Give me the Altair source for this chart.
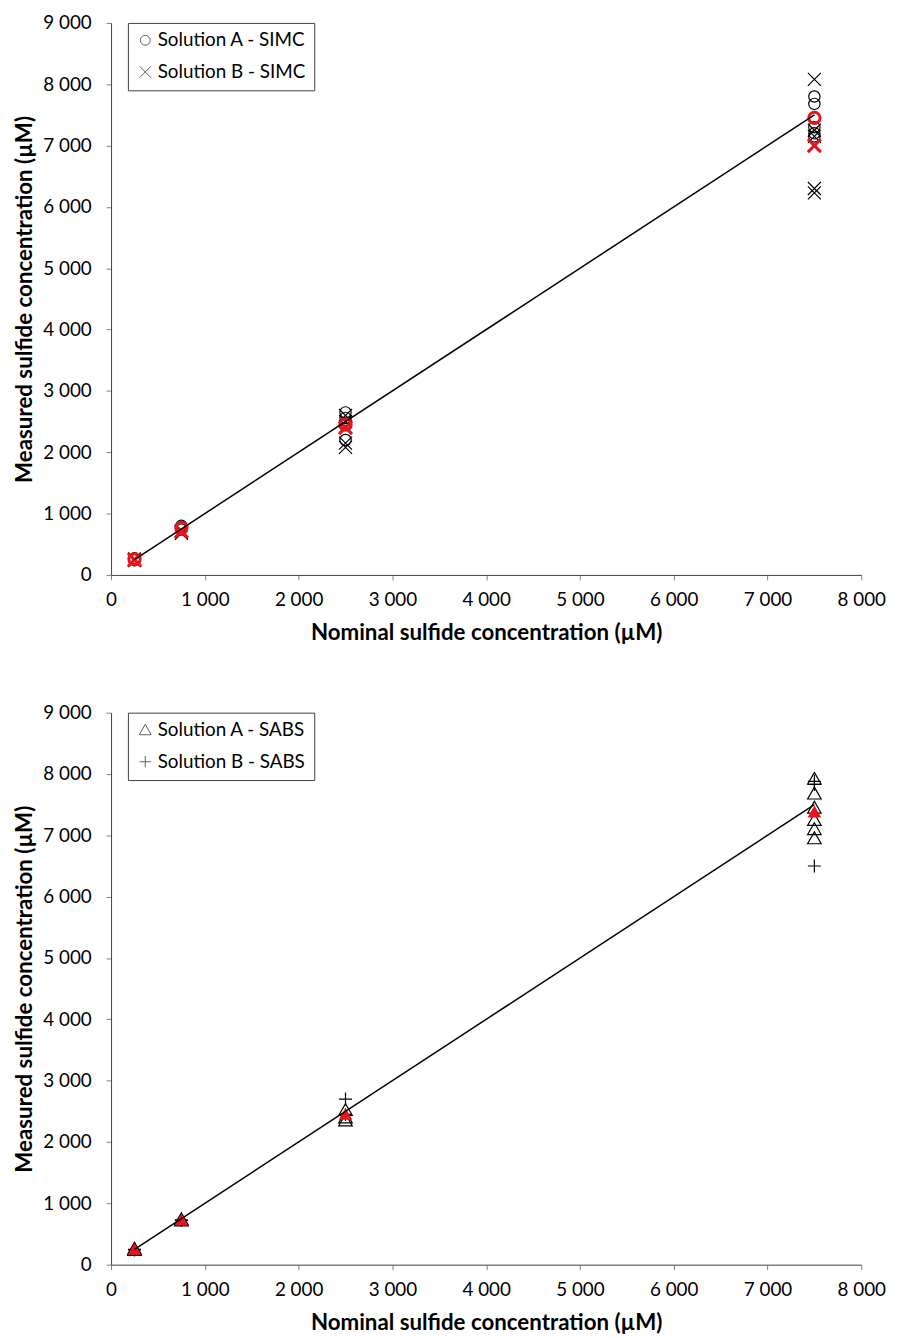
import altair as alt
import pandas as pd

# ---------------- data ----------------
# Top panel: SIMC
simc_a_nominal = [250, 250, 250, 750, 750, 750, 2500, 2500, 2500, 2500, 7500, 7500, 7500, 7500, 7500]
simc_a_measured = [270, 250, 240, 800, 780, 740, 2650, 2560, 2470, 2200, 7800, 7680, 7300, 7200, 7150]
simc_b_nominal = [250, 250, 250, 750, 750, 750, 2500, 2500, 2500, 2500, 2500, 7500, 7500, 7500, 7500, 7500]
simc_b_measured = [260, 245, 235, 720, 700, 680, 2600, 2500, 2420, 2150, 2080, 8080, 7250, 7150, 6300, 6230]
simc_mean_nominal = [250, 750, 2500, 7500]
simc_a_mean = [255, 765, 2450, 7450]
simc_b_mean = [245, 710, 2400, 7000]

# Bottom panel: SABS
sabs_a_nominal = [250, 250, 750, 750, 2500, 2500, 2500, 7500, 7500, 7500, 7500, 7500, 7500]
sabs_a_measured = [260, 240, 740, 720, 2520, 2400, 2350, 7920, 7680, 7450, 7250, 7100, 6950]
sabs_b_nominal = [250, 250, 750, 750, 2500, 2500, 7500, 7500, 7500]
sabs_b_measured = [250, 240, 730, 720, 2700, 2450, 7880, 7830, 6500]
sabs_mean_nominal = [250, 750, 2500, 7500]
sabs_a_mean = [250, 730, 2450, 7380]

line_x = [250, 7500]
line_y = [250, 7500]

x_ticks = [0, 1000, 2000, 3000, 4000, 5000, 6000, 7000, 8000]
y_ticks = [0, 1000, 2000, 3000, 4000, 5000, 6000, 7000, 8000, 9000]

X_PATH = "M-1.15,-1.15L1.15,1.15M-1.15,1.15L1.15,-1.15"
PLUS_PATH = "M-1.15,0L1.15,0M0,-1.15L0,1.15"
TRI_PATH = "M0,-1.15L1.2,0.95L-1.2,0.95Z"

FONT = "Lato"
W, H = 757, 557
RED = "#e8141c"
SIZE = 130

label_expr = "replace(format(datum.value, ','), ',', ' ')"


def xaxis():
    return alt.Axis(values=x_ticks, labelExpr=label_expr, grid=False, labelFlush=False,
                    title="Nominal sulfide concentration (µM)",
                    titleFontWeight="bold", titleFontSize=22.5, titleFont=FONT,
                    labelFont=FONT, labelFontSize=19, labelColor="black", titleColor="black",
                    domainColor="#404040", tickColor="#808080", tickSize=5,
                    labelPadding=11, titlePadding=12)


def yaxis():
    return alt.Axis(values=y_ticks, labelExpr=label_expr, grid=False, labelFlush=False,
                    title="Measured sulfide concentration (µM)",
                    titleFontWeight="bold", titleFontSize=22.5, titleFont=FONT,
                    labelFont=FONT, labelFontSize=19, labelColor="black", titleColor="black",
                    domainColor="#404040", tickColor="#808080", tickSize=5,
                    labelPadding=15, titlePadding=6)


def panel(a_nom, a_meas, b_nom, b_meas, mean_nom, a_mean, b_mean,
          label_a, label_b, shape_a, shape_b, red_filled_a):
    xs = alt.Scale(domain=[0, 8000], nice=False)
    ys = alt.Scale(domain=[0, 9000], nice=False)

    pts = pd.concat([
        pd.DataFrame({"nominal": a_nom, "measured": a_meas, "series": label_a}),
        pd.DataFrame({"nominal": b_nom, "measured": b_meas, "series": label_b}),
    ])
    line_df = pd.DataFrame({"nominal": line_x, "measured": line_y})

    line = alt.Chart(line_df).mark_line(color="black", strokeWidth=1.5).encode(
        x=alt.X("nominal:Q", scale=xs, axis=xaxis()),
        y=alt.Y("measured:Q", scale=ys, axis=yaxis()),
    )

    shape_scale = alt.Scale(domain=[label_a, label_b], range=[shape_a, shape_b])

    points = alt.Chart(pts).mark_point(filled=False, color="black", strokeWidth=1.2,
                                       opacity=1, size=SIZE).encode(
        x=alt.X("nominal:Q", scale=xs),
        y=alt.Y("measured:Q", scale=ys),
        shape=alt.Shape("series:N", scale=shape_scale,
                        legend=alt.Legend(title=None, orient="none", legendX=17, legendY=0,
                                          strokeColor="#404040", padding=8,
                                          labelFont=FONT, labelFontSize=19, labelColor="black",
                                          symbolStrokeColor="#606060", symbolStrokeWidth=1,
                                          symbolSize=100, symbolFillColor="transparent",
                                          rowPadding=12, labelOffset=3, fillColor="white")),
    )

    layers = [points]
    if b_mean is not None:
        b_red = pd.DataFrame({"nominal": mean_nom, "measured": b_mean})
        layers.append(alt.Chart(b_red).mark_point(shape=shape_b, size=SIZE, color=RED,
                                                  filled=False, strokeWidth=3, opacity=1).encode(
            x=alt.X("nominal:Q", scale=xs), y=alt.Y("measured:Q", scale=ys)))
    a_red = pd.DataFrame({"nominal": mean_nom, "measured": a_mean})
    layers.append(alt.Chart(a_red).mark_point(shape=shape_a, size=SIZE, color=RED,
                                              filled=red_filled_a, strokeWidth=3, opacity=1).encode(
        x=alt.X("nominal:Q", scale=xs), y=alt.Y("measured:Q", scale=ys)))
    layers.append(line)

    return alt.layer(*layers).properties(
        width=W, height=H, view=alt.ViewConfig(stroke="transparent", strokeWidth=0, strokeOpacity=0))


top = panel(simc_a_nominal, simc_a_measured, simc_b_nominal, simc_b_measured,
            simc_mean_nominal, simc_a_mean, simc_b_mean,
            "Solution A - SIMC", "Solution B - SIMC", "circle", X_PATH, False)
bottom = panel(sabs_a_nominal, sabs_a_measured, sabs_b_nominal, sabs_b_measured,
               sabs_mean_nominal, sabs_a_mean, None,
               "Solution A - SABS", "Solution B - SABS", TRI_PATH, PLUS_PATH, True)

chart = alt.vconcat(top, bottom, spacing=60, background="white",
                    padding={"left": 6, "top": 0, "right": 5, "bottom": 5}).resolve_scale(
    shape="independent").resolve_legend(
    shape="independent").configure_view(stroke="transparent", strokeWidth=0)

chart.save("out.html", embed_options={"renderer": "svg", "actions": False})
